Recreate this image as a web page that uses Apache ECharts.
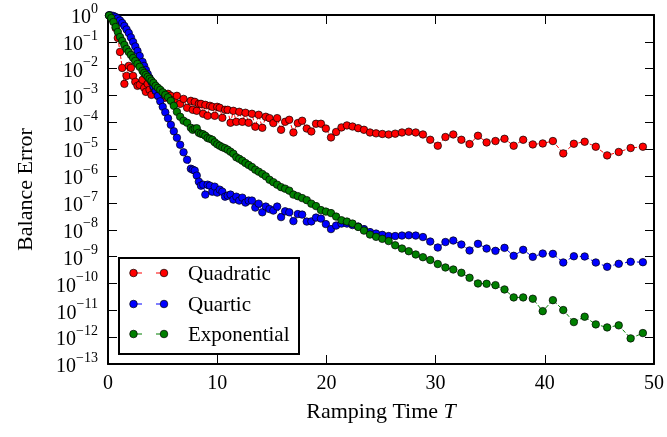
<!DOCTYPE html>
<html><head><meta charset="utf-8">
<script src="https://cdn.jsdelivr.net/npm/echarts@6/dist/echarts.min.js"></script>
<style>html,body{margin:0;padding:0;background:#fff}#c{width:667px;height:437px}</style>
</head><body><div id="c"></div>
<script>
// Ramping times T (shared by all three series)
const T = [
  0.1,0.3,0.5,0.7,0.9,1.1,1.3,1.5,1.7,1.9,2.1,2.3,2.5,2.7,2.9,
  3.162,3.311,3.467,3.631,3.802,3.981,4.169,4.365,4.571,4.786,5.012,5.248,5.495,5.754,6.026,6.310,6.607,6.918,7.244,7.586,
  7.762,7.943,8.128,8.318,8.511,8.710,8.913,9.120,9.333,9.550,9.772,
  10.00,10.23,10.47,10.72,10.96,11.22,11.48,11.75,12.02,12.30,
  12.59,12.88,13.18,13.49,13.80,14.13,14.45,14.79,15.14,15.49,
  15.85,16.22,16.60,16.98,17.38,17.78,18.20,18.62,19.05,19.50,
  19.95,20.42,20.89,21.38,21.88,22.39,22.91,23.44,23.99,24.55,
  25.12,25.70,26.30,26.92,27.54,28.18,28.84,29.51,30.20,30.90,
  31.62,32.36,33.11,33.88,34.67,35.48,36.31,37.15,38.02,38.90,
  39.81,40.74,41.69,42.66,43.65,44.67,45.71,46.77,47.86,48.98
];

const quadratic = [
  0.958,0.843,0.598,0.329,0.140,0.0421,0.0107,0.00272,0.0054,0.0127,0.0107,0.0054,0.00323,0.00230,0.00250,
  0.00384,0.00193,0.00137,0.00272,0.00163,0.00106,0.00193,0.00150,9.75e-4,0.00137,0.00116,8.2e-4,0.00116,9.75e-4,6.9e-4,9.75e-4,4.9e-4,7.5e-4,3.5e-4,6.35e-4,
  2.94e-4,5.83e-4,2.7e-4,4.9e-4,4.9e-4,2.09e-4,4.5e-4,1.76e-4,4.14e-4,3.8e-4,
  1.76e-4,3.8e-4,3.5e-4,1.48e-4,2.94e-4,2.94e-4,9.7e-5,2.7e-4,1.05e-4,2.48e-4,
  1.05e-4,2.28e-4,9.7e-5,2.09e-4,6.9e-5,1.92e-4,6.3e-5,1.62e-4,
  1.44e-4,9.4e-5,1.44e-4,5.3e-5,1.05e-4,1.25e-4,4.2e-5,9.4e-5,1.15e-4,5.9e-5,
  4.6e-5,8.9e-5,8.9e-5,5.9e-5,2.75e-5,4.4e-5,6.5e-5,7.7e-5,7.0e-5,6.1e-5,
  5.3e-5,4.2e-5,3.9e-5,3.7e-5,3.55e-5,3.8e-5,4.2e-5,4.5e-5,4.2e-5,3.55e-5,
  2.25e-5,1.35e-5,2.85e-5,3.55e-5,
  2.25e-5,1.56e-5,3.18e-5,1.79e-5,2.02e-5,2.45e-5,1.35e-5,2.25e-5,1.51e-5,1.64e-5,
  2.02e-5,7.0e-6,1.6e-5,1.9e-5,1.24e-5,5.9e-6,7.9e-6,1.11e-5,1.24e-5
];

const quartic = [
  0.983,0.958,0.918,0.843,0.741,0.624,0.504,0.390,0.289,0.214,0.146,0.0991,0.0675,0.0459,0.0299,
  0.0179,0.0127,0.00902,0.00641,0.00455,0.00323,0.00220,0.00150,9.75e-4,6.08e-4,3.8e-4,2.37e-4,1.42e-4,8.1e-5,4.67e-5,2.68e-5,1.47e-5,7.7e-6,4.07e-6,1.88e-6,
  1.73e-6,1.6e-6,1.04e-6,6.2e-7,4.4e-7,4.79e-7,2.04e-7,4.79e-7,4.4e-7,2.63e-7,
  4.04e-7,2.42e-7,3.12e-7,2.63e-7,1.71e-7,1.87e-7,2.04e-7,1.33e-7,1.71e-7,1.22e-7,
  1.57e-7,1.03e-7,1.22e-7,1.22e-7,6.7e-8,9.4e-8,4.47e-8,7.3e-8,
  5.9e-8,5.2e-8,7.3e-8,2.96e-8,4.87e-8,4.47e-8,2.1e-8,3.84e-8,3.67e-8,2.02e-8,
  2.05e-8,2.84e-8,2.61e-8,1.63e-8,1.06e-8,1.43e-8,1.7e-8,1.7e-8,1.5e-8,1.32e-8,
  1.06e-8,8.2e-9,7.2e-9,6.46e-9,5.83e-9,5.83e-9,6.08e-9,6.24e-9,6.08e-9,5.36e-9,
  3.64e-9,2.18e-9,3.49e-9,3.97e-9,
  2.82e-9,1.69e-9,2.99e-9,2.0e-9,1.64e-9,2.12e-9,1.07e-9,1.79e-9,9.8e-10,1.30e-9,
  1.27e-9,6.04e-10,1.03e-9,1.01e-9,6.04e-10,4.18e-10,5.4e-10,6.41e-10,6.2e-10
];

const exponential = [
  0.958,0.774,0.549,0.358,0.233,0.152,0.108,0.0767,0.0545,0.0421,0.0326,0.0252,0.0195,0.0151,0.0117,
  0.00828,0.00698,0.00589,0.00496,0.00418,0.00352,0.00296,0.00230,0.00193,0.00163,0.00132,0.00106,8.6e-4,6.35e-4,4.14e-4,2.48e-4,1.62e-4,1.15e-4,9.7e-5,6.3e-5,
  5.3e-5,5.8e-5,6.04e-5,4.1e-5,3.77e-5,3.61e-5,3.18e-5,2.61e-5,2.45e-5,2.25e-5,
  1.82e-5,1.53e-5,1.35e-5,1.19e-5,1.09e-5,9.6e-6,8.1e-6,6.8e-6,5.0e-6,4.4e-6,
  3.73e-6,3.07e-6,2.59e-6,2.18e-6,1.73e-6,1.46e-6,1.20e-6,9.75e-7,
  7.3e-7,5.93e-7,4.79e-7,3.87e-7,3.4e-7,2.86e-7,2.04e-7,1.79e-7,1.51e-7,1.27e-7,
  9.4e-8,7.6e-8,5.4e-8,4.75e-8,4.18e-8,3.1e-8,2.26e-8,2.02e-8,1.7e-8,1.28e-8,
  9.3e-9,6.63e-9,5.45e-9,4.59e-9,3.8e-9,2.65e-9,2.0e-9,1.59e-9,1.20e-9,9.5e-10,
  7.5e-10,5.3e-10,3.94e-10,3.31e-10,
  2.5e-10,1.63e-10,1.0e-10,9.75e-11,8.65e-11,5.98e-11,3.02e-11,3.02e-11,2.7e-11,9.3e-12,
  2.39e-11,1.02e-11,3.64e-12,5.78e-12,2.99e-12,2.31e-12,2.75e-12,9.0e-13,1.42e-12
];

const seriesNames = ['Quadratic', 'Quartic', 'Exponential'];
const seriesColors = ['#ff0000', '#0000ff', '#007f00'];
const xLabel = 'Ramping Time ';
const xLabelItalic = 'T';
const yLabel = 'Balance Error';

const FONT = "Liberation Serif";
const chart = echarts.init(document.getElementById('c'), null, {renderer: 'canvas'});

function pairs(vals) { return T.map((t, i) => [t, vals[i]]); }
function supLabel(v) {
  const e = Math.round(Math.log10(v));
  const s = e < 0 ? '\u2212' + (-e) : String(e);
  return '{b|10}{s|' + s + '}';
}

const frameLine = {show: true, onZero: false, lineStyle: {color: '#000', width: 2}};
const innerTick = {show: true, inside: true, length: 9, lineStyle: {color: '#000', width: 1}};

const allValues = [quadratic, quartic, exponential];

// Legend box drawn in matplotlib style: marker - - marker, then the label
const legendBox = {left: 119, top: 258, width: 180, height: 96, rowY: [273, 304, 334]};
const legendGraphics = [{
  type: 'rect', z: 100,
  shape: {x: legendBox.left, y: legendBox.top, width: legendBox.width, height: legendBox.height},
  style: {fill: '#fff', stroke: '#000', lineWidth: 2}
}];
seriesNames.forEach((name, i) => {
  const y = legendBox.rowY[i];
  legendGraphics.push(
    {type: 'line', z: 101, shape: {x1: 137, y1: y, x2: 161, y2: y},
     style: {stroke: seriesColors[i], lineWidth: 1, lineDash: [5, 14]}},
    {type: 'circle', z: 102, shape: {cx: 133.5, cy: y, r: 3.8},
     style: {fill: seriesColors[i], stroke: '#000', lineWidth: 0.7}},
    {type: 'circle', z: 102, shape: {cx: 164, cy: y, r: 3.8},
     style: {fill: seriesColors[i], stroke: '#000', lineWidth: 0.7}},
    {type: 'text', z: 102, x: 188, y: y + 1,
     style: {text: name, fontSize: 21, fontFamily: FONT, fontStyle: 'normal', fontWeight: 'normal',
             fill: '#000', verticalAlign: 'middle', align: 'left'}}
  );
});

chart.setOption({
  animation: false,
  backgroundColor: '#fff',
  textStyle: {fontFamily: FONT},
  grid: {left: 108, right: 10, top: 15, bottom: 73},
  xAxis: [
    {type: 'value', min: 0, max: 50, interval: 10, position: 'bottom',
     axisLine: frameLine, axisTick: innerTick, splitLine: {show: false},
     axisLabel: {color: '#000', fontSize: 20, fontFamily: FONT, margin: 10},
     name: '{n|' + xLabel + '}{i|' + xLabelItalic + '}', nameLocation: 'middle', nameGap: 37,
     nameTextStyle: {rich: {
       n: {fontSize: 22, fontFamily: FONT, color: '#000'},
       i: {fontSize: 22, fontFamily: FONT, fontStyle: 'italic', color: '#000'}}}},
    {type: 'value', min: 0, max: 50, interval: 10, position: 'top',
     axisLine: frameLine, axisTick: innerTick, splitLine: {show: false},
     axisLabel: {show: false}}
  ],
  yAxis: [
    {type: 'log', logBase: 10, min: 1e-13, max: 1, interval: 1, position: 'left',
     axisLine: frameLine, axisTick: innerTick, splitLine: {show: false},
     minorTick: {show: false},
     axisLabel: {color: '#000', margin: 10, formatter: supLabel,
       rich: {
         b: {fontSize: 20, fontFamily: FONT, color: '#000', lineHeight: 26, verticalAlign: 'bottom'},
         s: {fontSize: 14, fontFamily: FONT, color: '#000', lineHeight: 14, verticalAlign: 'top'}}},
     name: yLabel, nameLocation: 'middle', nameGap: 71,
     nameTextStyle: {fontSize: 22, fontFamily: FONT, color: '#000'}},
    {type: 'log', logBase: 10, min: 1e-13, max: 1, interval: 1, position: 'right',
     axisLine: frameLine, axisTick: innerTick, splitLine: {show: false},
     axisLabel: {show: false}}
  ],
  graphic: legendGraphics,
  series: seriesNames.map((name, i) => ({
    name: name, type: 'line', xAxisIndex: 0, yAxisIndex: 0,
    data: pairs(allValues[i]),
    symbol: 'circle', symbolSize: 7.5, showSymbol: true,
    lineStyle: {type: 'dashed', width: 1, color: seriesColors[i]},
    itemStyle: {color: seriesColors[i], borderColor: '#000', borderWidth: 0.7},
    emphasis: {disabled: true},
    clip: true
  }))
});
</script>
</body></html>
